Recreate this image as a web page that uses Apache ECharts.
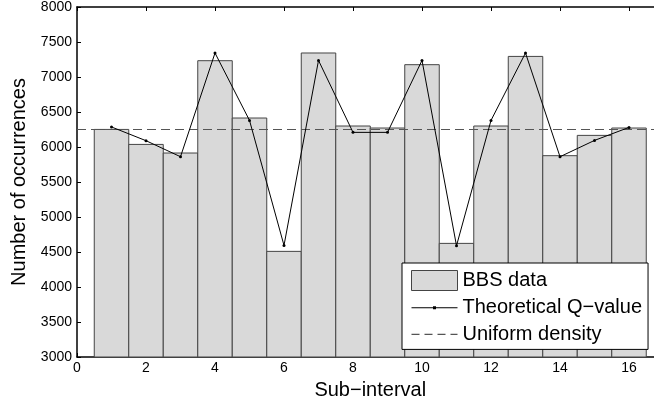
<!DOCTYPE html>
<html>
<head>
<meta charset="utf-8">
<script src="https://cdn.jsdelivr.net/npm/echarts@6/dist/echarts.min.js"></script>
<style>
  html, body { margin: 0; padding: 0; background: #fff; }
  #chart { width: 654px; height: 407px; }
</style>
</head>
<body>
<div id="chart"></div>
<script>
    // sub-interval index, histogram counts, theoretical Q-values
    var subIntervals = [1, 2, 3, 4, 5, 6, 7, 8, 9, 10, 11, 12, 13, 14, 15, 16];
    var bbsData = [6251, 6037, 5914, 7233, 6414, 4509, 7343, 6300, 6271, 7176, 4623, 6300, 7294, 5876, 6166, 6271];
    var qValues = [6286, 6090, 5861, 7343, 6380, 4594, 7237, 6209, 6209, 7237, 4590, 6380, 7343, 5861, 6094, 6280];
    var uniformLevel = 6250;
    var xRange = [0, 17];
    var yRange = [3000, 8000];

    var chart = echarts.init(document.getElementById('chart'), null, {renderer: 'canvas'});

    var barData = subIntervals.map(function (x, i) { return [x, bbsData[i]]; });
    var lineData = subIntervals.map(function (x, i) { return [x, qValues[i]]; });
    var uniformData = [[xRange[0], uniformLevel], [xRange[1], uniformLevel]];

    var fontFamily = 'Liberation Sans, Arial, sans-serif';

    // legend icons drawn in a 46x20 box (corner points only fix the box size)
    var box = 'M0,0L0,0Z M46,20L46,20Z ';
    var qIcon = 'path://' + box + 'M0,9.5H46V10.5H0Z M21.5,8.5H24.5V11.5H21.5Z';
    var uIcon = 'path://' + box + 'M0,9.4H8V10.6H0Z M13,9.4H21V10.6H13Z M26,9.4H34V10.6H26Z M39,9.4H46V10.6H39Z';

    var option = {
        animation: false,
        backgroundColor: '#fff',
        grid: {left: 77, right: -9.5, top: 7, bottom: 50, outerBoundsMode: 'none'},
        legend: {
            orient: 'vertical',
            left: 402, top: 263,
            padding: [7, 6, 5, 9],
            backgroundColor: '#fff',
            borderColor: '#000',
            borderWidth: 1,
            itemWidth: 46,
            itemHeight: 20,
            itemGap: 6.7,
            textStyle: {fontFamily: fontFamily, fontSize: 20, color: '#000', padding: [0, 0, 0, 0]},
            data: [
                {name: 'BBS data', icon: 'rect', itemStyle: {color: '#d9d9d9', borderColor: '#444', borderWidth: 1}},
                {name: 'Theoretical Q\u2212value', icon: qIcon, itemStyle: {color: '#000', borderWidth: 0}},
                {name: 'Uniform density', icon: uIcon, itemStyle: {color: '#555', borderWidth: 0}}
            ]
        },
        xAxis: [{
            type: 'value', min: xRange[0], max: xRange[1], interval: 2,
            name: 'Sub\u2212interval', nameLocation: 'middle', nameGap: 23,
            nameTextStyle: {fontFamily: fontFamily, fontSize: 20, color: '#000'},
            axisLine: {lineStyle: {color: '#000', width: 1.5}},
            axisTick: {inside: true, length: 4, lineStyle: {color: '#000'}},
            axisLabel: {fontFamily: fontFamily, fontSize: 14, color: '#000', margin: 4, showMaxLabel: false},
            splitLine: {show: false}
        }, {
            type: 'value', position: 'top', min: xRange[0], max: xRange[1], interval: 2,
            axisLine: {lineStyle: {color: '#000', width: 1.5}},
            axisTick: {inside: true, length: 4, lineStyle: {color: '#000'}},
            axisLabel: {show: false},
            splitLine: {show: false}
        }],
        yAxis: {
            type: 'value', min: yRange[0], max: yRange[1], interval: 500,
            name: 'Number of occurrences', nameLocation: 'middle', nameGap: 45,
            nameTextStyle: {fontFamily: fontFamily, fontSize: 20, color: '#000'},
            axisLine: {show: true, lineStyle: {color: '#000', width: 1.5}},
            axisTick: {show: true, inside: true, length: 4, lineStyle: {color: '#000'}},
            axisLabel: {
                fontFamily: fontFamily, fontSize: 14, color: '#000', margin: 5,
                formatter: function (v) { return String(v); }
            },
            splitLine: {show: false}
        },
        series: [{
            name: 'BBS data',
            type: 'custom',
            data: barData,
            z: 2,
            renderItem: function (params, api) {
                var x = api.value(0), y = api.value(1);
                var p1 = api.coord([x - 0.5, y]);
                var p2 = api.coord([x + 0.5, yRange[0]]);
                return {
                    type: 'rect',
                    shape: {x: p1[0], y: p1[1], width: p2[0] - p1[0], height: p2[1] - p1[1]},
                    style: {fill: '#d9d9d9', stroke: '#444', lineWidth: 1}
                };
            },
            itemStyle: {color: '#d9d9d9', borderColor: '#444'}
        }, {
            name: 'Uniform density',
            type: 'line',
            data: uniformData,
            symbol: 'none',
            z: 3,
            lineStyle: {color: '#555', width: 1.2, type: [9, 5]},
            itemStyle: {color: '#555'}
        }, {
            name: 'Theoretical Q\u2212value',
            type: 'line',
            data: lineData,
            symbol: 'circle',
            symbolSize: 3,
            z: 4,
            lineStyle: {color: '#000', width: 1},
            itemStyle: {color: '#000'}
        }]
    };

    chart.setOption(option);
</script>
</body>
</html>
